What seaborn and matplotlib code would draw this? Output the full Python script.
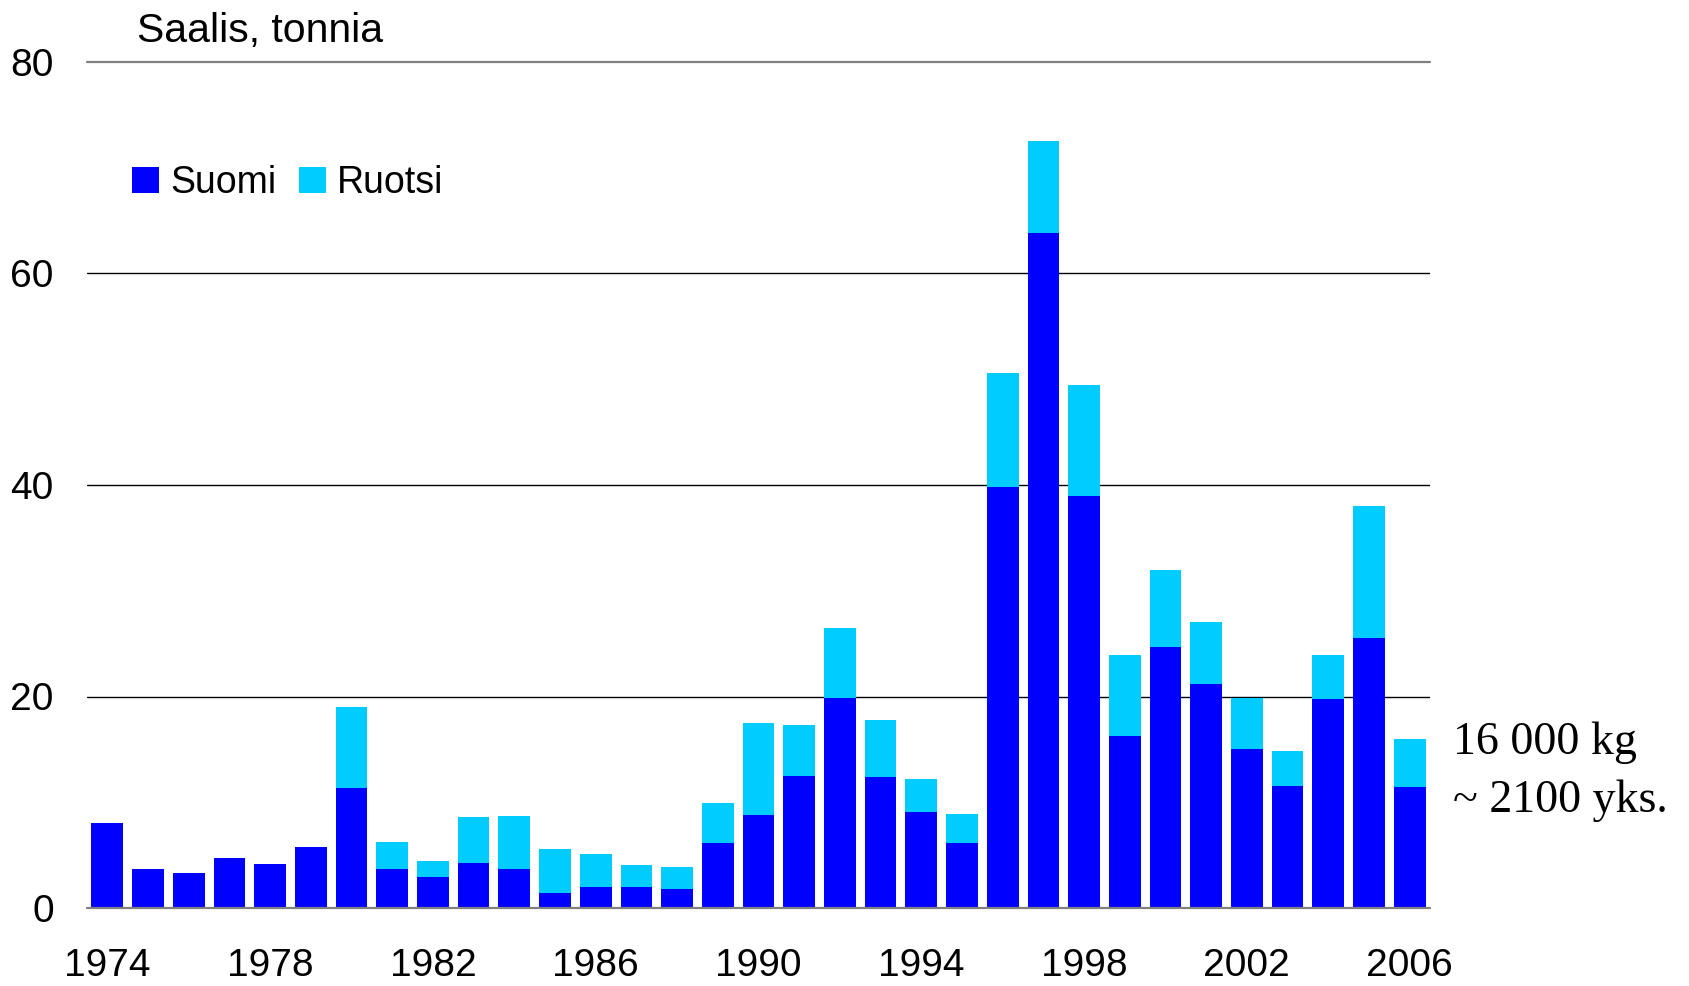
import pandas as pd
import seaborn as sns
import matplotlib.pyplot as plt
from matplotlib.patches import Patch

# Catch data (tonnes)
years = list(range(1974, 2007))
suomi = [8.05, 3.7, 3.35, 4.75, 4.2, 5.8, 11.35, 3.7, 2.9, 4.3, 3.7, 1.45, 2.0, 2.0, 1.8,
         6.15, 8.8, 12.5, 19.9, 12.4, 9.05, 6.15, 39.8, 63.8, 38.95, 16.3, 24.65, 21.15,
         15.05, 11.5, 19.75, 25.5, 11.45]
ruotsi = [0, 0, 0, 0, 0, 0, 7.65, 2.55, 1.5, 4.35, 5.0, 4.15, 3.15, 2.1, 2.1,
          3.75, 8.7, 4.8, 6.6, 5.4, 3.15, 2.75, 10.75, 8.75, 10.55, 7.6, 7.3, 5.9,
          4.8, 3.35, 4.15, 12.5, 4.55]
yticks = [0, 20, 40, 60, 80]
xtick_years = [1974, 1978, 1982, 1986, 1990, 1994, 1998, 2002, 2006]

df = pd.DataFrame({'year': [str(y) for y in years], 'suomi': suomi, 'ruotsi': ruotsi})
df['total'] = df['suomi'] + df['ruotsi']

blue = '#0000FF'
cyan = '#00CCFF'

sns.set_theme(style='white')
plt.rcParams['font.family'] = ['Liberation Sans', 'DejaVu Sans']
plt.rcParams['text.color'] = 'black'
plt.rcParams['xtick.color'] = 'black'
plt.rcParams['ytick.color'] = 'black'

fig = plt.figure(figsize=(16.9, 9.86), dpi=100)
ax = fig.add_axes([87 / 1690, 1 - 908 / 986, (1430 - 87) / 1690, (908 - 62) / 986])

# stacked bars: total (cyan) behind, Finland (blue) in front
sns.barplot(data=df, x='year', y='total', color=cyan, saturation=1, width=0.78,
            linewidth=0, edgecolor='none', ax=ax, zorder=2)
sns.barplot(data=df, x='year', y='suomi', color=blue, saturation=1, width=0.78,
            linewidth=0, edgecolor='none', ax=ax, zorder=3)

ax.set_xlim(-0.5, len(years) - 0.5)
ax.set_ylim(0, 80)
ax.set_xlabel('')
ax.set_ylabel('')
for s in ax.spines.values():
    s.set_visible(False)

# gridlines
for v in yticks:
    if v in (0, 80):
        ax.axhline(v, color='#808080', lw=1.6, zorder=4, clip_on=False)
    else:
        ax.axhline(v, color='black', lw=1.0, zorder=1)

ax.set_yticks(yticks)
ax.set_yticklabels([str(v) for v in yticks], fontsize=28)
pos = [years.index(y) for y in xtick_years]
ax.set_xticks(pos)
ax.set_xticklabels([str(y) for y in xtick_years], fontsize=28)
ax.tick_params(axis='y', length=0, pad=24)
ax.tick_params(axis='x', length=0, pad=29)

fig.text(137 / 1690, 1 - 42 / 986, 'Saalis, tonnia', fontsize=29.5, va='baseline', ha='left')

handles = [Patch(facecolor=blue, edgecolor='none', label='Suomi'),
           Patch(facecolor=cyan, edgecolor='none', label='Ruotsi')]
fig.legend(handles=handles, loc='center left', bbox_to_anchor=(132 / 1690, 1 - 183 / 986),
           ncol=2, frameon=False, fontsize=27, handlelength=0.72, handleheight=0.72,
           handletextpad=0.3, columnspacing=0.6, borderpad=0, borderaxespad=0)

fig.text(1453 / 1690, 1 - 754 / 986, '16 000 kg', fontsize=33, va='baseline', ha='left',
         family=['Liberation Serif', 'DejaVu Serif'])
fig.text(1453 / 1690, 1 - 812 / 986, '~ 2100 yks.', fontsize=33, va='baseline', ha='left',
         family=['Liberation Serif', 'DejaVu Serif'])

fig.savefig('out.png', dpi=100)
